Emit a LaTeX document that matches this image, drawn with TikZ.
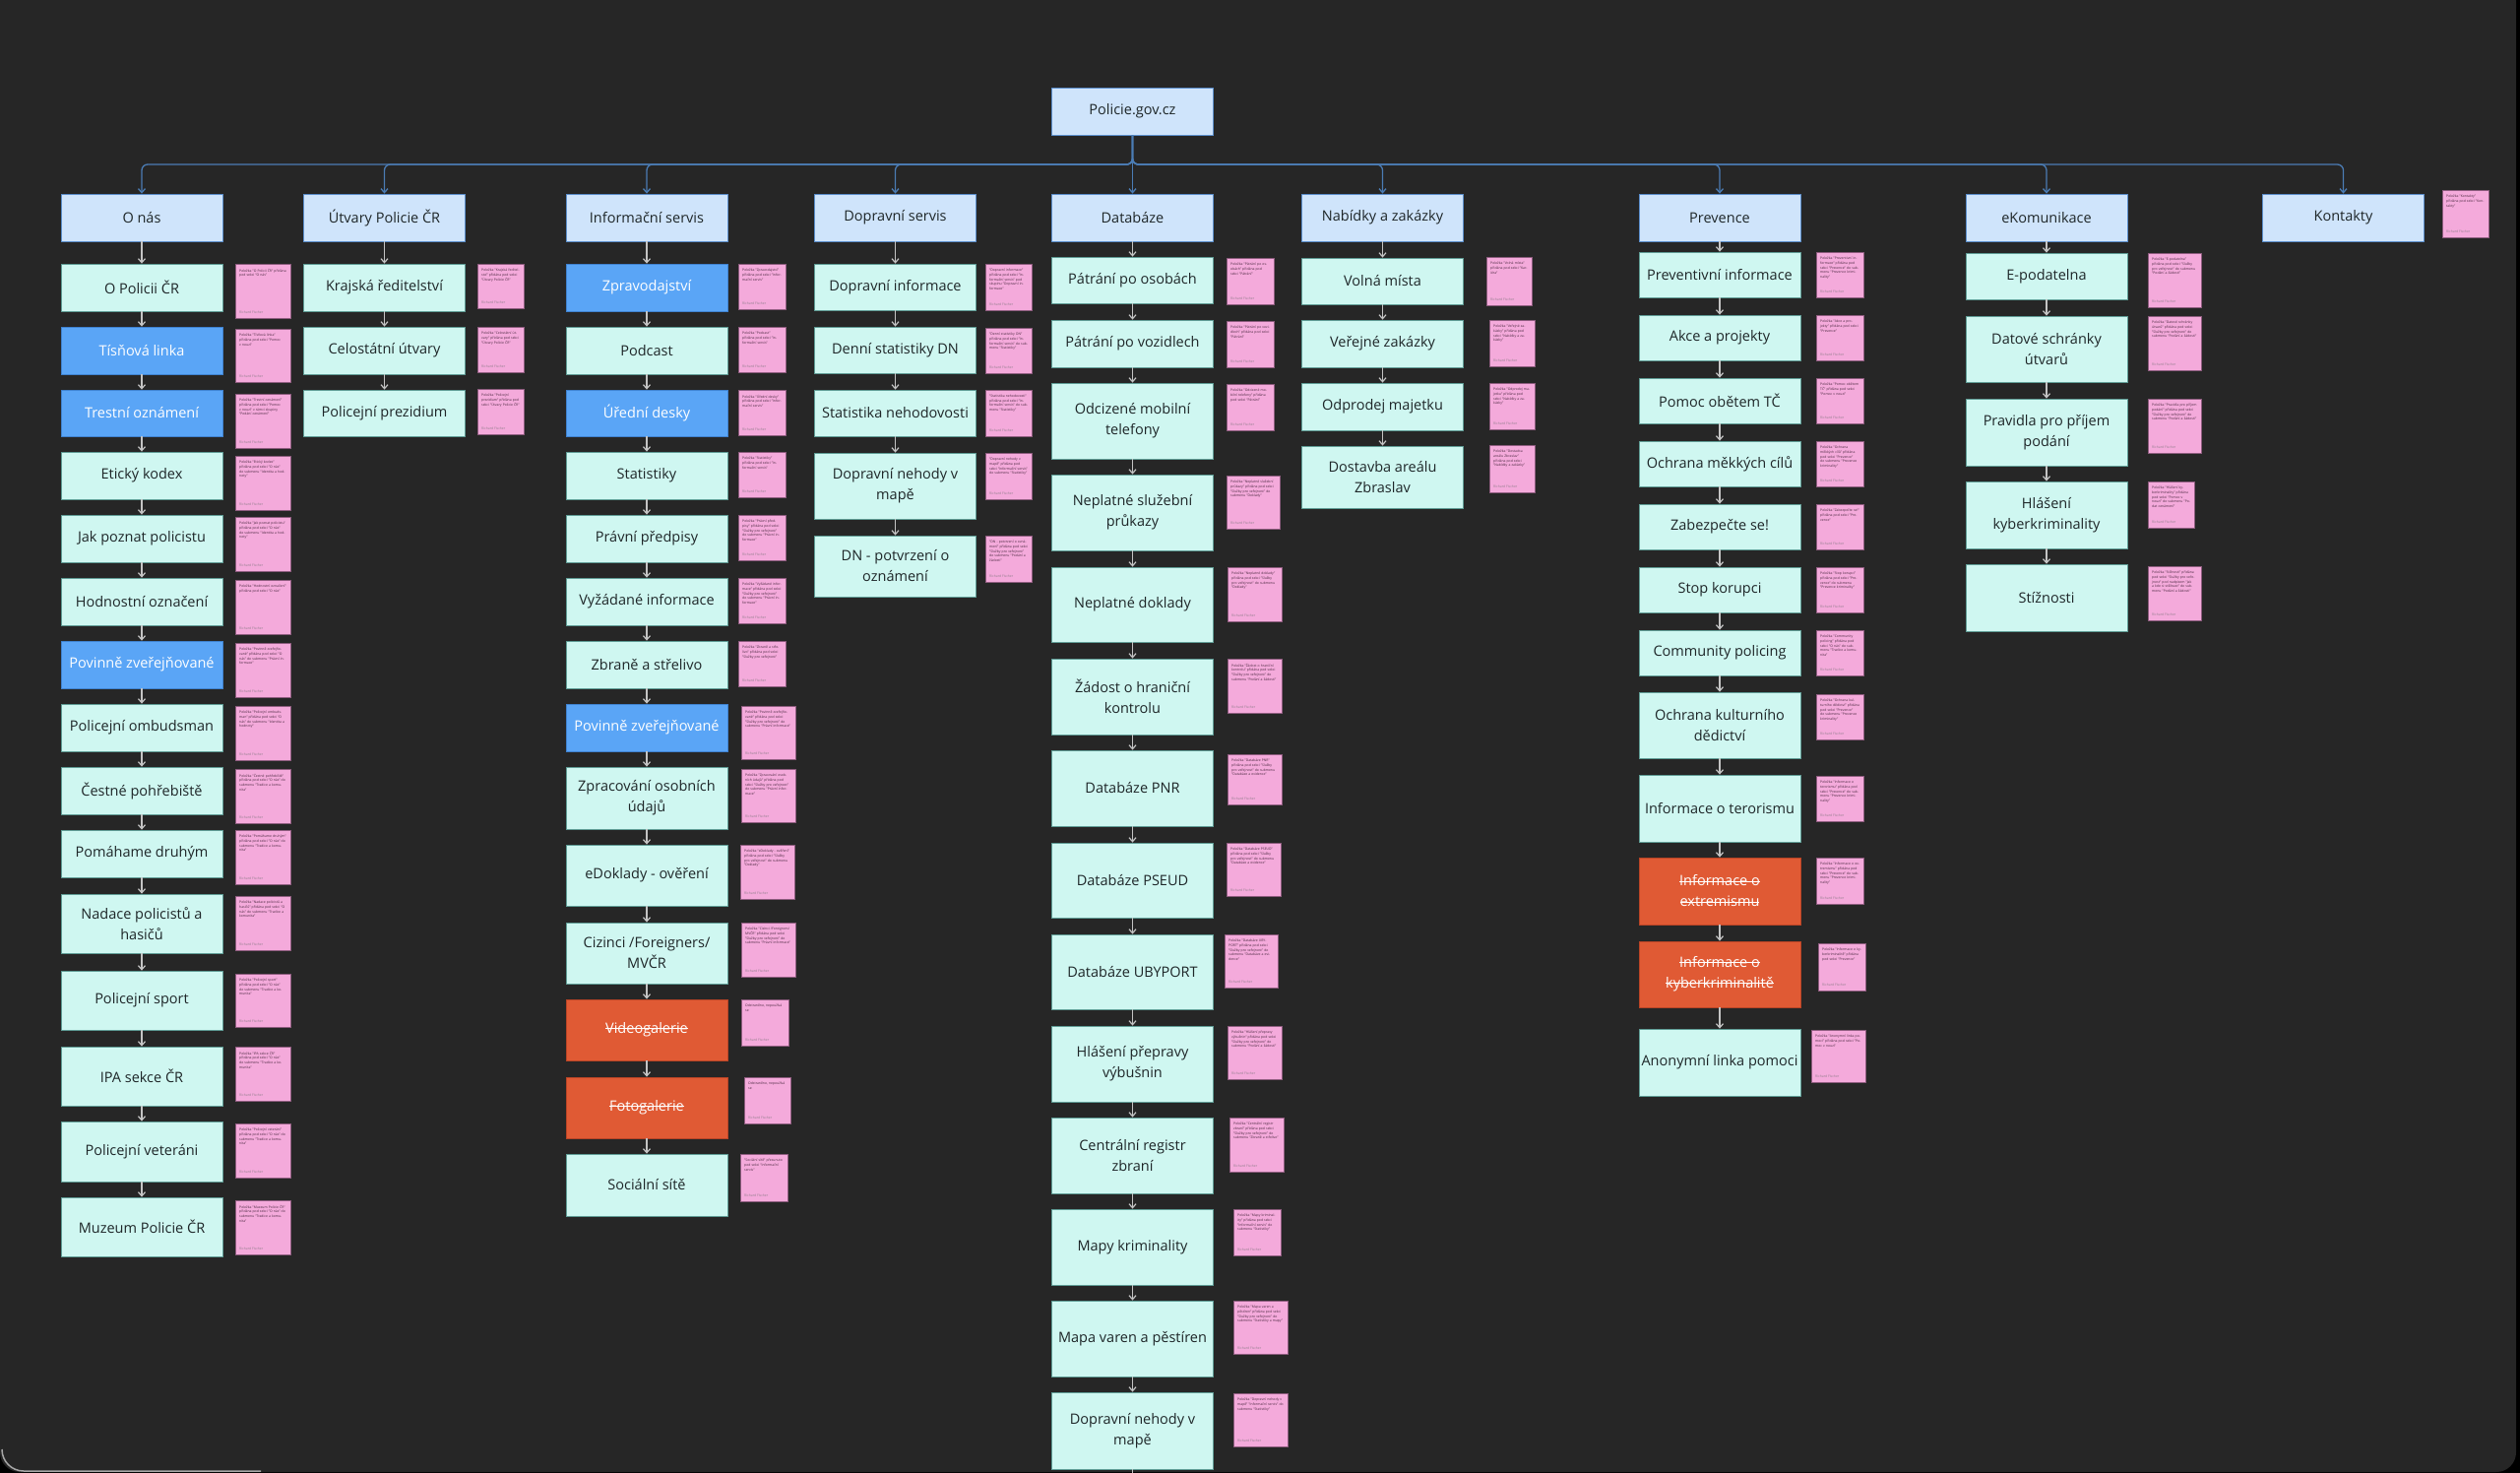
\documentclass[tikz,border=0pt]{standalone}
\usepackage{fontspec}
\setmainfont{Open Sans}
\usetikzlibrary{arrows.meta}

\definecolor{canvas}{HTML}{262626}
\definecolor{hdrfill}{HTML}{CFE4FB}
\definecolor{hdrline}{HTML}{5B8ECB}
\definecolor{itemfill}{HTML}{CFF7F1}
\definecolor{itemline}{HTML}{5F9C95}
\definecolor{hotfill}{HTML}{5AA5F6}
\definecolor{hotline}{HTML}{3F82D0}
\definecolor{gonefill}{HTML}{E05A34}
\definecolor{goneline}{HTML}{B94426}
\definecolor{notefill}{HTML}{F4AADB}
\definecolor{noteline}{HTML}{8D5C7E}
\definecolor{noteink}{HTML}{4A2A40}
\definecolor{linkblue}{HTML}{4B7CB4}
\definecolor{arrowgray}{HTML}{C4C4C4}
\definecolor{inktext}{HTML}{1E2628}

\newcommand{\boxfont}{\fontsize{14.5}{21}\selectfont}
\newcommand{\notefont}{\fontsize{3.4}{4.6}\selectfont}
% struck-out text
\newcommand{\strk}[1]{\setbox0\hbox{#1}\rlap{\rule[0.3em]{\wd0}{1.1pt}}\box0}

\tikzset{
  hdr/.style={draw=hdrline, fill=hdrfill, text=inktext, line width=0.8pt,
    minimum width=164pt, minimum height=48pt, inner sep=0pt,
    font=\boxfont, align=center},
  item/.style={hdr, draw=itemline, fill=itemfill},
  hot/.style={hdr, draw=hotline, fill=hotfill, text=white},
  gone/.style={hdr, draw=goneline, fill=gonefill, text=white},
  link/.style={draw=linkblue, line width=1.3pt, rounded corners=6pt,
    -{Straight Barb[length=4pt,width=7pt]}},
  kidarrow/.style={draw=arrowgray, line width=1.2pt,
    -{Straight Barb[length=4pt,width=7pt]}},
  notebox/.style={draw=noteline, fill=notefill, line width=0.6pt},
  notetext/.style={anchor=north west, text=noteink, font=\notefont,
    align=left, inner sep=0pt},
  notesign/.style={anchor=south west, text=noteink!60, font=\notefont,
    inner sep=0pt}
}

% box: name, style, x, top, bottom, text
\newcommand{\bx}[6]{\node[#2, minimum height={#5-#4}] (#1) at (#3,{(#4+#5)/2}) {#6};}
% sticky note: name, x, top, width, height, text
\newcommand{\stick}[6]{%
  \path[notebox] (#2,#3) rectangle ++(#4,#5);
  \pgfmathsetmacro\notew{#4-8}
  \node[notetext, text width=\notew pt] (#1) at ({#2+4},{#3+5}) {#6};
  \node[notesign] (#1s) at ({#2+4},{#3+#5-4}) {Richard Fischer};
}

\begin{document}
\begin{tikzpicture}[x=1pt,y=-1pt]

\useasboundingbox (0,0) rectangle (2560,1496);
\fill[black] (0,0) rectangle (2560,1496);
\fill[canvas, rounded corners=20pt] (0,-40) rectangle (2556,1495);
\draw[gray!70, line width=1.5pt] (2,1472) to[out=-90,in=180] (24,1494) -- (265,1494);

% root and sections
\node[hdr] (top) at (1150.5,113) {Policie.gov.cz};
\coordinate (bus) at (1150.5,167);

\node[hdr] (onas) at (144,221) {O nás};
\node[hdr] (utvary) at (390.5,221) {Útvary Policie ČR};
\node[hdr] (info) at (657,221) {Informační servis};
\node[hdr] (doprava) at (909.5,221) {Dopravní servis};
\node[hdr] (databaze) at (1150.5,221) {Databáze};
\node[hdr] (nabidky) at (1404.5,221) {Nabídky a zakázky};
\node[hdr] (prevence) at (1747,221) {Prevence};
\node[hdr] (ekom) at (2079,221) {eKomunikace};
\node[hdr] (kontakty) at (2380.5,221) {Kontakty};

\draw[link] (top.south) -- (databaze.north);
\foreach \s in {onas,utvary,info,doprava,nabidky,prevence,ekom,kontakty}
  \draw[link] (top.south) -- (bus) -| (\s.north);

% O nas
\bx{on1}{item}{144}{268}{316}{O Policii ČR}
\bx{on2}{hot}{144}{332}{380}{Tísňová linka}
\bx{on3}{hot}{144}{396}{443}{Trestní oznámení}
\bx{on4}{item}{144}{459}{507}{Etický kodex}
\bx{on5}{item}{144}{523}{571}{Jak poznat policistu}
\bx{on6}{item}{144}{587}{635}{Hodnostní označení}
\bx{on7}{hot}{144}{651}{699}{Povinně zveřejňované}
\bx{on8}{item}{144}{715}{763}{Policejní ombudsman}
\bx{on9}{item}{144}{779}{827}{Čestné pohřebiště}
\bx{on10}{item}{144}{843}{891}{Pomáhame druhým}
\bx{on11}{item}{144}{908}{968}{Nadace policistů a\\hasičů}
\bx{on12}{item}{144}{986}{1046}{Policejní sport}
\bx{on13}{item}{144}{1063}{1123}{IPA sekce ČR}
\bx{on14}{item}{144}{1139}{1200}{Policejní veteráni}
\bx{on15}{item}{144}{1216}{1276}{Muzeum Policie ČR}
\draw[kidarrow] (onas.south) -- (on1.north);
\foreach \i [evaluate=\i as \j using int(\i+1)] in {1,...,14}
  \draw[kidarrow] (on\i.south) -- (on\j.north);

\stick{non1}{239}{268}{56}{55}{Položka "O Policii ČR" přidána pod sekci "O nás"}
\stick{non2}{239}{334}{56}{54}{Položka "Tísňová linka" přidána pod sekci "Pomoc v nouzi"}
\stick{non3}{239}{400}{56}{55}{Položka "Trestní oznámení" přidána pod sekci "Pomoc v nouzi" v rámci skupiny "Podání oznámení"}
\stick{non4}{239}{463}{56}{55}{Položka "Etický kodex" přidána pod sekci "O nás" do submenu "Identita a hodnoty"}
\stick{non5}{239}{525}{56}{55}{Položka "Jak poznat policistu" přidána pod sekci "O nás" do submenu "Identita a hodnoty"}
\stick{non6}{239}{589}{56}{55}{Položka "Hodnostní označení" přidána pod sekci "O nás"}
\stick{non7}{239}{653}{56}{55}{Položka "Povinně zveřejňované" přidána pod sekci "O nás" do submenu "Právní informace"}
\stick{non8}{239}{717}{56}{55}{Položka "Policejní ombudsman" přidána pod sekci "O nás" do submenu "Identita a hodnoty"}
\stick{non9}{239}{781}{56}{55}{Položka "Čestné pohřebiště" přidána pod sekci "O nás" do submenu "Tradice a komunita"}
\stick{non10}{239}{843}{56}{55}{Položka "Pomáhame druhým" přidána pod sekci "O nás" do submenu "Tradice a komunita"}
\stick{non11}{239}{910}{56}{55}{Položka "Nadace policistů a hasičů" přidána pod sekci "O nás" do submenu "Tradice a komunita"}
\stick{non12}{239}{989}{56}{54}{Položka "Policejní sport" přidána pod sekci "O nás" do submenu "Tradice a komunita"}
\stick{non13}{239}{1063}{56}{55}{Položka "IPA sekce ČR" přidána pod sekci "O nás" do submenu "Tradice a komunita"}
\stick{non14}{239}{1141}{56}{55}{Položka "Policejní veteráni" přidána pod sekci "O nás" do submenu "Tradice a komunita"}
\stick{non15}{239}{1219}{56}{55}{Položka "Muzeum Policie ČR" přidána pod sekci "O nás" do submenu "Tradice a komunita"}

% Utvary Policie CR
\bx{ut1}{item}{390.5}{268}{316}{Krajská ředitelství}
\bx{ut2}{item}{390.5}{332}{380}{Celostátní útvary}
\bx{ut3}{item}{390.5}{396}{443}{Policejní prezidium}
\draw[kidarrow] (utvary.south) -- (ut1.north);
\draw[kidarrow] (ut1.south) -- (ut2.north);
\draw[kidarrow] (ut2.south) -- (ut3.north);

\stick{nut1}{485}{268}{47}{45}{Položka "Krajská ředitelství" přidána pod sekci "Útvary Policie ČR"}
\stick{nut2}{485}{332}{47}{46}{Položka "Celostátní útvary" přidána pod sekci "Útvary Policie ČR"}
\stick{nut3}{485}{395}{47}{46}{Položka "Policejní prezidium" přidána pod sekci "Útvary Policie ČR"}

% Informacni servis
\bx{is1}{hot}{657}{268}{316}{Zpravodajství}
\bx{is2}{item}{657}{332}{380}{Podcast}
\bx{is3}{hot}{657}{396}{443}{Úřední desky}
\bx{is4}{item}{657}{459}{507}{Statistiky}
\bx{is5}{item}{657}{523}{571}{Právní předpisy}
\bx{is6}{item}{657}{587}{635}{Vyžádané informace}
\bx{is7}{item}{657}{651}{699}{Zbraně a střelivo}
\bx{is8}{hot}{657}{715}{763}{Povinně zveřejňované}
\bx{is9}{item}{657}{779}{842}{Zpracování osobních\\údajů}
\bx{is10}{item}{657}{858}{920}{eDoklady - ověření}
\bx{is11}{item}{657}{937}{999}{Cizinci /Foreigners/\\MVČR}
\bx{is12}{gone}{657}{1015}{1077}{\strk{Videogalerie}}
\bx{is13}{gone}{657}{1094}{1156}{\strk{Fotogalerie}}
\bx{is14}{item}{657}{1172}{1235}{Sociální sítě}
\draw[kidarrow] (info.south) -- (is1.north);
\foreach \i [evaluate=\i as \j using int(\i+1)] in {1,...,13}
  \draw[kidarrow] (is\i.south) -- (is\j.north);

\stick{nis1}{750}{268}{48}{46}{Položka "Zpravodajství" přidána pod sekci "Informační servis"}
\stick{nis2}{750}{332}{48}{46}{Položka "Podcast" přidána pod sekci "Informační servis"}
\stick{nis3}{750}{396}{48}{46}{Položka "Úřední desky" přidána pod sekci "Informační servis"}
\stick{nis4}{750}{459}{48}{46}{Položka "Statistiky" přidána pod sekci "Informační servis"}
\stick{nis5}{750}{523}{48}{46}{Položka "Právní předpisy" přidána pod sekci "Služby pro veřejnost" do submenu "Právní informace"}
\stick{nis6}{750}{587}{48}{46}{Položka "Vyžádané informace" přidána pod sekci "Služby pro veřejnost" do submenu "Právní informace"}
\stick{nis7}{750}{651}{48}{46}{Položka "Zbraně a střelivo" přidána pod sekci "Služby pro veřejnost"}
\stick{nis8}{753}{717}{55}{54}{Položka "Povinně zveřejňované" přidána pod sekci "Služby pro veřejnost" do submenu "Právní informace"}
\stick{nis9}{753}{781}{55}{54}{Položka "Zpracování osobních údajů" přidána pod sekci "Služby pro veřejnost" do submenu "Právní informace"}
\stick{nis10}{752}{858}{55}{55}{Položka "eDoklady - ověření" přidána pod sekci "Služby pro veřejnost" do submenu "Doklady"}
\stick{nis11}{753}{937}{55}{55}{Položka "Cizinci /Foreigners/ MVČR" přidána pod sekci "Služby pro veřejnost" do submenu "Právní informace"}
\stick{nis12}{753}{1015}{48}{47}{Odstraněno, nepoužívá se}
\stick{nis13}{756}{1094}{47}{47}{Odstraněno, nepoužívá se}
\stick{nis14}{752}{1172}{48}{48}{"Sociální sítě" přesunuto pod sekci "Informační servis"}

% Dopravni servis
\bx{ds1}{item}{909.5}{268}{315}{Dopravní informace}
\bx{ds2}{item}{909.5}{332}{379}{Denní statistiky DN}
\bx{ds3}{item}{909.5}{396}{443}{Statistika nehodovosti}
\bx{ds4}{item}{909.5}{460}{527}{Dopravní nehody v\\mapě}
\bx{ds5}{item}{909.5}{544}{606}{DN - potvrzení o\\oznámení}
\draw[kidarrow] (doprava.south) -- (ds1.north);
\foreach \i [evaluate=\i as \j using int(\i+1)] in {1,...,4}
  \draw[kidarrow] (ds\i.south) -- (ds\j.north);

\stick{nds1}{1001}{268}{47}{47}{"Dopravní informace" přidána pod sekci "Informační servis" pod skupinu "Dopravní informace"}
\stick{nds2}{1001}{333}{47}{46}{"Denní statistiky DN" přidána pod sekci "Informační servis" do submenu "Statistiky"}
\stick{nds3}{1001}{396}{47}{47}{"Statistika nehodovosti" přidána pod sekci "Informační servis" do submenu "Statistiky"}
\stick{nds4}{1001}{460}{47}{47}{"Dopravní nehody v mapě" přidána pod sekci "Informační servis" do submenu "Statistiky"}
\stick{nds5}{1001}{544}{47}{47}{"DN - potvrzení o oznámení" přidána pod sekci "Služby pro veřejnost" do submenu "Podání a žádosti"}

% Databaze
\bx{db1}{item}{1150.5}{261}{308}{Pátrání po osobách}
\bx{db2}{item}{1150.5}{325}{373}{Pátrání po vozidlech}
\bx{db3}{item}{1150.5}{389}{466}{Odcizené mobilní\\telefony}
\bx{db4}{item}{1150.5}{482}{559}{Neplatné služební\\průkazy}
\bx{db5}{item}{1150.5}{576}{652}{Neplatné doklady}
\bx{db6}{item}{1150.5}{669}{746}{Žádost o hraniční\\kontrolu}
\bx{db7}{item}{1150.5}{762}{839}{Databáze PNR}
\bx{db8}{item}{1150.5}{856}{932}{Databáze PSEUD}
\bx{db9}{item}{1150.5}{949}{1025}{Databáze UBYPORT}
\bx{db10}{item}{1150.5}{1042}{1119}{Hlášení přepravy\\výbušnin}
\bx{db11}{item}{1150.5}{1135}{1212}{Centrální registr\\zbraní}
\bx{db12}{item}{1150.5}{1228}{1305}{Mapy kriminality}
\bx{db13}{item}{1150.5}{1321}{1398}{Mapa varen a pěstíren}
\bx{db14}{item}{1150.5}{1414}{1492}{Dopravní nehody v\\mapě}
\coordinate (dbend) at (1150.5,1510);
\draw[kidarrow] (databaze.south) -- (db1.north);
\foreach \i [evaluate=\i as \j using int(\i+1)] in {1,...,13}
  \draw[kidarrow] (db\i.south) -- (db\j.north);
\draw[arrowgray, line width=1.2pt] (db14.south) -- (dbend);

\stick{ndb1}{1246}{262}{48}{47}{Položka "Pátrání po osobách" přidána pod sekci "Pátrání"}
\stick{ndb2}{1246}{326}{48}{47}{Položka "Pátrání po vozidlech" přidána pod sekci "Pátrání"}
\stick{ndb3}{1246}{390}{48}{47}{Položka "Odcizené mobilní telefony" přidána pod sekci "Pátrání"}
\stick{ndb4}{1246}{483}{54}{54}{Položka "Neplatné služební průkazy" přidána pod sekci "Služby pro veřejnost" do submenu "Doklady"}
\stick{ndb5}{1247}{576}{55}{55}{Položka "Neplatné doklady" přidána pod sekci "Služby pro veřejnost" do submenu "Doklady"}
\stick{ndb6}{1247}{669}{55}{55}{Položka "Žádost o hraniční kontrolu" přidána pod sekci "Služby pro veřejnost" do submenu "Podání a žádosti"}
\stick{ndb7}{1247}{766}{55}{51}{Položka "Databáze PNR" přidána pod sekci "Služby pro veřejnost" do submenu "Databáze a evidence"}
\stick{ndb8}{1246}{856}{55}{54}{Položka "Databáze PSEUD" přidána pod sekci "Služby pro veřejnost" do submenu "Databáze a evidence"}
\stick{ndb9}{1244}{949}{54}{54}{Položka "Databáze UBYPORT" přidána pod sekci "Služby pro veřejnost" do submenu "Databáze a evidence"}
\stick{ndb10}{1247}{1042}{55}{54}{Položka "Hlášení přepravy výbušnin" přidána pod sekci "Služby pro veřejnost" do submenu "Podání a žádosti"}
\stick{ndb11}{1249}{1135}{55}{55}{Položka "Centrální registr zbraní" přidána pod sekci "Služby pro veřejnost" do submenu "Zbraně a střelivo"}
\stick{ndb12}{1253}{1228}{48}{47}{Položka "Mapy kriminality" přidána pod sekci "Informační servis" do submenu "Statistiky"}
\stick{ndb13}{1253}{1321}{55}{54}{Položka "Mapa varen a pěstíren" přidána pod sekci "Služby pro veřejnost" do submenu "Statistiky a mapy"}
\stick{ndb14}{1253}{1415}{55}{54}{Položka "Dopravní nehody v mapě" "Informační servis" do submenu "Statistiky"}

% Nabidky a zakazky
\bx{nz1}{item}{1404.5}{262}{309}{Volná místa}
\bx{nz2}{item}{1404.5}{325}{373}{Veřejné zakázky}
\bx{nz3}{item}{1404.5}{389}{437}{Odprodej majetku}
\bx{nz4}{item}{1404.5}{453}{516}{Dostavba areálu\\Zbraslav}
\draw[kidarrow] (nabidky.south) -- (nz1.north);
\foreach \i [evaluate=\i as \j using int(\i+1)] in {1,...,3}
  \draw[kidarrow] (nz\i.south) -- (nz\j.north);

\stick{nnz1}{1510}{261}{46}{49}{Položka "Volná místa" přidána pod sekci "Kariéra"}
\stick{nnz2}{1513}{325}{46}{47}{Položka "Veřejné zakázky" přidána pod sekci "Nabídky a zakázky"}
\stick{nnz3}{1513}{389}{46}{47}{Položka "Odprodej majetku" přidána pod sekci "Nabídky a zakázky"}
\stick{nnz4}{1513}{452}{46}{48}{Položka "Dostavba areálu Zbraslav" přidána pod sekci "Nabídky a zakázky"}

% Prevence
\bx{pr1}{item}{1747}{256}{302}{Preventivní informace}
\bx{pr2}{item}{1747}{320}{366}{Akce a projekty}
\bx{pr3}{item}{1747}{384}{430}{Pomoc obětem TČ}
\bx{pr4}{item}{1747}{448}{494}{Ochrana měkkých cílů}
\bx{pr5}{item}{1747}{512}{558}{Zabezpečte se!}
\bx{pr6}{item}{1747}{576}{622}{Stop korupci}
\bx{pr7}{item}{1747}{640}{686}{Community policing}
\bx{pr8}{item}{1747}{703}{770}{Ochrana kulturního\\dědictví}
\bx{pr9}{item}{1747}{787}{855}{Informace o terorismu}
\bx{pr10}{gone}{1747}{871}{939}{\strk{Informace o}\\\strk{extremismu}}
\bx{pr11}{gone}{1747}{956}{1023}{\strk{Informace o}\\\strk{kyberkriminalitě}}
\bx{pr12}{item}{1747}{1045}{1113}{Anonymní linka pomoci}
\draw[kidarrow] (prevence.south) -- (pr1.north);
\foreach \i [evaluate=\i as \j using int(\i+1)] in {1,...,11}
  \draw[kidarrow] (pr\i.south) -- (pr\j.north);

\stick{npr1}{1845}{256}{48}{46}{Položka "Preventivní informace" přidána pod sekci "Prevence" do submenu "Prevence kriminality"}
\stick{npr2}{1845}{320}{48}{46}{Položka "Akce a projekty" přidána pod sekci "Prevence"}
\stick{npr3}{1845}{384}{48}{46}{Položka "Pomoc obětem TČ" přidána pod sekci "Pomoc v nouzi"}
\stick{npr4}{1845}{448}{48}{46}{Položka "Ochrana měkkých cílů" přidána pod sekci "Prevence" do submenu "Prevence kriminality"}
\stick{npr5}{1845}{512}{48}{46}{Položka "Zabezpečte se!" přidána pod sekci "Prevence"}
\stick{npr6}{1845}{576}{48}{46}{Položka "Stop korupci" přidána pod sekci "Prevence" do submenu "Prevence kriminality"}
\stick{npr7}{1845}{640}{48}{46}{Položka "Community policing" přidána pod sekci "O nás" do submenu "Tradice a komunita"}
\stick{npr8}{1845}{705}{48}{46}{Položka "Ochrana kulturního dědictví" přidána pod sekci "Prevence" do submenu "Prevence kriminality"}
\stick{npr9}{1845}{788}{48}{46}{Položka "Informace o terorismu" přidána pod sekci "Prevence" do submenu "Prevence kriminality"}
\stick{npr10}{1845}{871}{48}{47}{Položka "Informace o extremismu" přidána pod sekci "Prevence" do submenu "Prevence kriminality"}
\stick{npr11}{1847}{958}{48}{48}{Položka "Informace o kyberkriminalitě" přidána pod sekci "Prevence"}
\stick{npr12}{1840}{1046}{55}{53}{Položka "Anonymní linka pomoci" přidána pod sekci "Pomoc v nouzi"}

% eKomunikace
\bx{ek1}{item}{2079}{257}{304}{E-podatelna}
\bx{ek2}{item}{2079}{321}{388}{Datové schránky\\útvarů}
\bx{ek3}{item}{2079}{405}{473}{Pravidla pro příjem\\podání}
\bx{ek4}{item}{2079}{489}{557}{Hlášení\\kyberkriminality}
\bx{ek5}{item}{2079}{573}{641}{Stížnosti}
\draw[kidarrow] (ekom.south) -- (ek1.north);
\foreach \i [evaluate=\i as \j using int(\i+1)] in {1,...,4}
  \draw[kidarrow] (ek\i.south) -- (ek\j.north);

\stick{nek1}{2182}{257}{54}{55}{Položka "E-podatelna" přidána pod sekci "Služby pro veřejnost" do submenu "Podání a žádosti"}
\stick{nek2}{2182}{321}{54}{55}{Položka "Datové schránky útvarů" přidána pod sekci "Služby pro veřejnost" do submenu "Podání a žádosti"}
\stick{nek3}{2182}{405}{54}{55}{Položka "Pravidla pro příjem podání" přidána pod sekci "Služby pro veřejnost" do submenu "Podání a žádosti"}
\stick{nek4}{2182}{489}{47}{47}{Položka "Hlášení kyberkriminality" přidána pod sekci "Pomoc v nouzi" do submenu "Podat oznámení"}
\stick{nek5}{2182}{575}{54}{55}{Položka "Stížnosti" přidána pod sekci "Služby pro veřejnost" pod nadpisem "Jak a kde si stěžovat" do submenu "Podání a žádosti"}

% Kontakty
\stick{nko}{2481}{193}{47}{48}{Položka "Kontakty" přidána pod sekci "Kontakty"}

\end{tikzpicture}
\end{document}
